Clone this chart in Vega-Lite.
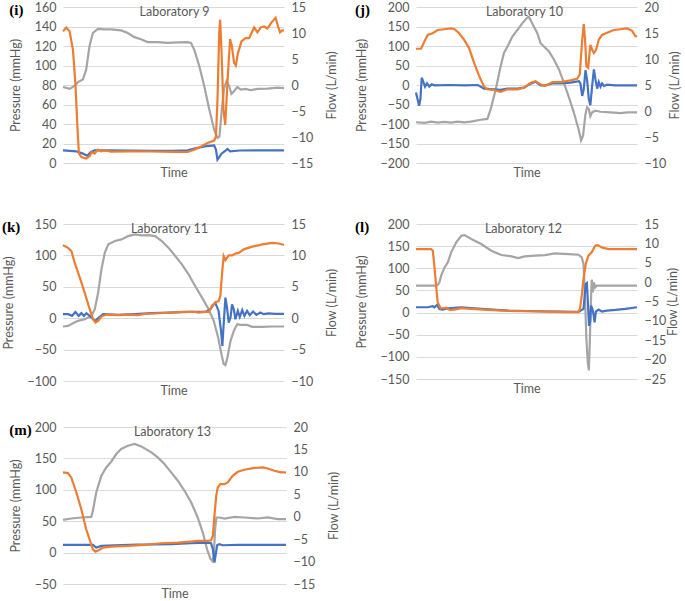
{
  "$schema": "https://vega.github.io/schema/vega-lite/v6.json",
  "padding": {"left": 2, "top": 1, "right": 0, "bottom": 0},
  "background": "white",
  "config": {
    "view": {"stroke": null},
    "font": "Lato",
    "axis": {"labelFont": "Lato", "labelFontSize": 12.5, "labelColor": "#595959", "titleFont": "Lato", "titleFontSize": 12.5, "titleFontWeight": "normal", "titleColor": "#595959", "domain": false, "ticks": false, "gridColor": "#D9D9D9", "labelPadding": 7},
    "title": {"font": "Liberation Serif", "fontSize": 15, "fontWeight": "bold", "color": "#000000", "anchor": "start", "frame": "bounds", "offset": -17}
  },
  "datasets": {
    "lab9": [
      {"t":0,"s":"Flow","v":-0.38},{"t":3,"s":"Flow","v":-0.75},{"t":4.5,"s":"Flow","v":-0.38},{"t":6.8,"s":"Flow","v":0.56},{"t":9,"s":"Flow","v":1.05},{"t":10.5,"s":"Flow","v":3.0},{"t":12,"s":"Flow","v":7.5},{"t":13.5,"s":"Flow","v":10.0},{"t":15.8,"s":"Flow","v":10.8},{"t":18.8,"s":"Flow","v":10.7},{"t":21.8,"s":"Flow","v":10.7},{"t":26.3,"s":"Flow","v":10.5},{"t":29.3,"s":"Flow","v":10.0},{"t":32.3,"s":"Flow","v":9.2},{"t":35.3,"s":"Flow","v":8.8},{"t":38.3,"s":"Flow","v":8.25},{"t":42.9,"s":"Flow","v":8.25},{"t":47.4,"s":"Flow","v":8.1},{"t":51.9,"s":"Flow","v":8.2},{"t":56.4,"s":"Flow","v":8.25},{"t":57.9,"s":"Flow","v":8.1},{"t":59.4,"s":"Flow","v":6.75},{"t":61.7,"s":"Flow","v":3.6},{"t":63.9,"s":"Flow","v":-0.2},{"t":66.2,"s":"Flow","v":-4.7},{"t":68.4,"s":"Flow","v":-8.6},{"t":69.9,"s":"Flow","v":-10.2},{"t":70.8,"s":"Flow","v":-9.9},{"t":71.7,"s":"Flow","v":-5.4},{"t":72.9,"s":"Flow","v":-0.6},{"t":74,"s":"Flow","v":0.75},{"t":75.2,"s":"Flow","v":-0.2},{"t":76.2,"s":"Flow","v":-1.7},{"t":77.4,"s":"Flow","v":-1.2},{"t":78.9,"s":"Flow","v":-0.4},{"t":80.5,"s":"Flow","v":-0.9},{"t":82.7,"s":"Flow","v":-0.75},{"t":85,"s":"Flow","v":-1.0},{"t":88,"s":"Flow","v":-0.75},{"t":92.5,"s":"Flow","v":-0.7},{"t":97,"s":"Flow","v":-0.5},{"t":100,"s":"Flow","v":-0.6},
      {"t":0,"s":"LAP","v":13},{"t":6,"s":"LAP","v":12},{"t":9,"s":"LAP","v":9.6},{"t":11,"s":"LAP","v":7.5},{"t":12.5,"s":"LAP","v":11},{"t":14.3,"s":"LAP","v":13},{"t":20,"s":"LAP","v":13},{"t":30,"s":"LAP","v":12.8},{"t":40,"s":"LAP","v":12.5},{"t":50,"s":"LAP","v":12.5},{"t":56.4,"s":"LAP","v":13},{"t":59.4,"s":"LAP","v":14.7},{"t":64,"s":"LAP","v":17},{"t":68.4,"s":"LAP","v":18},{"t":69.2,"s":"LAP","v":13.7},{"t":69.9,"s":"LAP","v":3.4},{"t":70.7,"s":"LAP","v":6},{"t":71.7,"s":"LAP","v":9.6},{"t":73.7,"s":"LAP","v":13},{"t":74.4,"s":"LAP","v":14.4},{"t":75.6,"s":"LAP","v":12},{"t":80,"s":"LAP","v":12.8},{"t":90,"s":"LAP","v":13},{"t":100,"s":"LAP","v":13},
      {"t":0,"s":"LVP","v":135},{"t":1.5,"s":"LVP","v":139},{"t":3,"s":"LVP","v":135},{"t":4.5,"s":"LVP","v":116},{"t":5.6,"s":"LVP","v":82},{"t":6.5,"s":"LVP","v":38},{"t":7.2,"s":"LVP","v":10},{"t":8.3,"s":"LVP","v":6},{"t":10.5,"s":"LVP","v":4.5},{"t":12,"s":"LVP","v":7},{"t":13,"s":"LVP","v":11},{"t":14.3,"s":"LVP","v":9.6},{"t":15.8,"s":"LVP","v":13.7},{"t":17.3,"s":"LVP","v":12},{"t":18.8,"s":"LVP","v":13},{"t":21.8,"s":"LVP","v":11.6},{"t":30,"s":"LVP","v":12},{"t":40,"s":"LVP","v":11.8},{"t":50,"s":"LVP","v":11.5},{"t":56.4,"s":"LVP","v":11.3},{"t":59.4,"s":"LVP","v":13.7},{"t":62.4,"s":"LVP","v":17},{"t":65.4,"s":"LVP","v":20.5},{"t":68.4,"s":"LVP","v":23},{"t":69.2,"s":"LVP","v":27},{"t":69.9,"s":"LVP","v":65},{"t":70.7,"s":"LVP","v":134},{"t":71.1,"s":"LVP","v":147},{"t":71.7,"s":"LVP","v":116},{"t":72.6,"s":"LVP","v":55},{"t":73.4,"s":"LVP","v":39},{"t":74.4,"s":"LVP","v":82},{"t":75.6,"s":"LVP","v":127},{"t":76.4,"s":"LVP","v":120},{"t":77.4,"s":"LVP","v":103},{"t":78.2,"s":"LVP","v":100},{"t":79.2,"s":"LVP","v":113},{"t":80.8,"s":"LVP","v":125},{"t":82.7,"s":"LVP","v":128},{"t":84.2,"s":"LVP","v":128},{"t":86.5,"s":"LVP","v":139},{"t":88,"s":"LVP","v":134},{"t":89.5,"s":"LVP","v":139},{"t":91,"s":"LVP","v":140},{"t":92.5,"s":"LVP","v":138},{"t":94.3,"s":"LVP","v":144},{"t":96.2,"s":"LVP","v":149},{"t":97.3,"s":"LVP","v":140},{"t":98.2,"s":"LVP","v":134},{"t":99.2,"s":"LVP","v":136},{"t":100,"s":"LVP","v":136}
    ],
    "lab10": [
      {"t":0,"s":"Flow","v":-2.16},{"t":3.8,"s":"Flow","v":-2.28},{"t":6.8,"s":"Flow","v":-2.05},{"t":9.8,"s":"Flow","v":-2.25},{"t":12.8,"s":"Flow","v":-2.1},{"t":15.8,"s":"Flow","v":-2.25},{"t":18.8,"s":"Flow","v":-2.05},{"t":21.8,"s":"Flow","v":-2.2},{"t":24.8,"s":"Flow","v":-2.05},{"t":29.3,"s":"Flow","v":-1.68},{"t":32.3,"s":"Flow","v":-1.53},{"t":33.8,"s":"Flow","v":0.37},{"t":36.1,"s":"Flow","v":4.18},{"t":38.3,"s":"Flow","v":8.6},{"t":39.8,"s":"Flow","v":11.15},{"t":41.4,"s":"Flow","v":12.4},{"t":43.6,"s":"Flow","v":14.3},{"t":45.9,"s":"Flow","v":15.6},{"t":48.1,"s":"Flow","v":16.85},{"t":50.4,"s":"Flow","v":18.0},{"t":51.1,"s":"Flow","v":18.1},{"t":52.6,"s":"Flow","v":16.85},{"t":54.9,"s":"Flow","v":14.95},{"t":56.4,"s":"Flow","v":13.0},{"t":57.9,"s":"Flow","v":12.4},{"t":60.2,"s":"Flow","v":11.45},{"t":62.4,"s":"Flow","v":9.9},{"t":64.7,"s":"Flow","v":8.0},{"t":66.9,"s":"Flow","v":5.45},{"t":69.2,"s":"Flow","v":2.6},{"t":71.4,"s":"Flow","v":-0.25},{"t":73.7,"s":"Flow","v":-3.75},{"t":74.7,"s":"Flow","v":-5.65},{"t":75.6,"s":"Flow","v":-4.7},{"t":76.7,"s":"Flow","v":-0.55},{"t":77.4,"s":"Flow","v":0.7},{"t":78.2,"s":"Flow","v":0.37},{"t":78.9,"s":"Flow","v":-1.0},{"t":79.7,"s":"Flow","v":-0.25},{"t":81.2,"s":"Flow","v":0.05},{"t":83.5,"s":"Flow","v":-0.14},{"t":88,"s":"Flow","v":-0.25},{"t":92.5,"s":"Flow","v":-0.4},{"t":95.5,"s":"Flow","v":-0.25},{"t":100,"s":"Flow","v":-0.25},
      {"t":0,"s":"LAP","v":-19},{"t":1.4,"s":"LAP","v":-53},{"t":2,"s":"LAP","v":-36},{"t":2.6,"s":"LAP","v":18.6},{"t":3.2,"s":"LAP","v":10},{"t":4.1,"s":"LAP","v":-4.2},{"t":5,"s":"LAP","v":4.2},{"t":6,"s":"LAP","v":-4.2},{"t":7.1,"s":"LAP","v":1.7},{"t":8.3,"s":"LAP","v":-1},{"t":15,"s":"LAP","v":0},{"t":22,"s":"LAP","v":-1},{"t":28,"s":"LAP","v":0},{"t":30.8,"s":"LAP","v":-9.3},{"t":35.3,"s":"LAP","v":-11},{"t":38.3,"s":"LAP","v":-12.7},{"t":41.4,"s":"LAP","v":-9.3},{"t":45.9,"s":"LAP","v":-9.3},{"t":48.9,"s":"LAP","v":-6.8},{"t":51.9,"s":"LAP","v":3.4},{"t":54.1,"s":"LAP","v":8.5},{"t":56.4,"s":"LAP","v":-1},{"t":58.6,"s":"LAP","v":-1},{"t":61.7,"s":"LAP","v":4.2},{"t":65.4,"s":"LAP","v":4.2},{"t":69.9,"s":"LAP","v":6},{"t":73.7,"s":"LAP","v":10},{"t":74.4,"s":"LAP","v":4.2},{"t":75.2,"s":"LAP","v":-28},{"t":75.9,"s":"LAP","v":-11},{"t":76.7,"s":"LAP","v":38},{"t":77.4,"s":"LAP","v":14},{"t":78.2,"s":"LAP","v":-36},{"t":78.9,"s":"LAP","v":-51.6},{"t":79.7,"s":"LAP","v":-2.5},{"t":80.5,"s":"LAP","v":40},{"t":81.2,"s":"LAP","v":14},{"t":82,"s":"LAP","v":-9.3},{"t":82.7,"s":"LAP","v":7.6},{"t":83.5,"s":"LAP","v":-4.2},{"t":84.2,"s":"LAP","v":4.2},{"t":85,"s":"LAP","v":-2.5},{"t":86.5,"s":"LAP","v":0.8},{"t":90,"s":"LAP","v":-1},{"t":100,"s":"LAP","v":-1},
      {"t":0,"s":"LVP","v":93},{"t":2.3,"s":"LVP","v":93},{"t":3.8,"s":"LVP","v":111.6},{"t":5.3,"s":"LVP","v":128.5},{"t":7.5,"s":"LVP","v":132.7},{"t":9.8,"s":"LVP","v":141},{"t":12.8,"s":"LVP","v":143},{"t":15.8,"s":"LVP","v":145},{"t":17.3,"s":"LVP","v":143.7},{"t":19.5,"s":"LVP","v":132.7},{"t":21.8,"s":"LVP","v":115.8},{"t":24,"s":"LVP","v":94.7},{"t":26.3,"s":"LVP","v":56.6},{"t":28.6,"s":"LVP","v":22.8},{"t":30.8,"s":"LVP","v":-4.2},{"t":32.3,"s":"LVP","v":-11},{"t":35.3,"s":"LVP","v":-12.7},{"t":38.3,"s":"LVP","v":-17.8},{"t":41.4,"s":"LVP","v":-11},{"t":45.9,"s":"LVP","v":-11},{"t":48.9,"s":"LVP","v":-6.8},{"t":51.9,"s":"LVP","v":6},{"t":54.1,"s":"LVP","v":10},{"t":55.6,"s":"LVP","v":4.2},{"t":57.9,"s":"LVP","v":-2.5},{"t":59.4,"s":"LVP","v":0},{"t":61.7,"s":"LVP","v":7.6},{"t":65.4,"s":"LVP","v":7.6},{"t":69.9,"s":"LVP","v":11.8},{"t":72.9,"s":"LVP","v":16},{"t":74.1,"s":"LVP","v":27},{"t":75.2,"s":"LVP","v":116},{"t":75.9,"s":"LVP","v":156},{"t":76.5,"s":"LVP","v":116},{"t":77.1,"s":"LVP","v":48},{"t":77.9,"s":"LVP","v":44},{"t":78.9,"s":"LVP","v":103},{"t":79.7,"s":"LVP","v":90},{"t":80.5,"s":"LVP","v":82},{"t":81.5,"s":"LVP","v":90},{"t":82.7,"s":"LVP","v":116},{"t":84.2,"s":"LVP","v":128.5},{"t":86.5,"s":"LVP","v":134},{"t":89.5,"s":"LVP","v":141},{"t":92.5,"s":"LVP","v":143},{"t":95.5,"s":"LVP","v":145},{"t":97.7,"s":"LVP","v":139.5},{"t":99.2,"s":"LVP","v":126},{"t":100,"s":"LVP","v":124}
    ],
    "lab11": [
      {"t":0,"s":"Flow","v":-1.32},{"t":2.3,"s":"Flow","v":-1.22},{"t":4.5,"s":"Flow","v":-0.8},{"t":6.8,"s":"Flow","v":-0.42},{"t":9.8,"s":"Flow","v":-0.16},{"t":12.9,"s":"Flow","v":0.37},{"t":14.4,"s":"Flow","v":1.43},{"t":15.9,"s":"Flow","v":4.08},{"t":17.4,"s":"Flow","v":7.79},{"t":18.9,"s":"Flow","v":10.4},{"t":20.5,"s":"Flow","v":11.76},{"t":23.5,"s":"Flow","v":12.29},{"t":26.5,"s":"Flow","v":12.55},{"t":29.5,"s":"Flow","v":13.08},{"t":32.6,"s":"Flow","v":13.35},{"t":35.6,"s":"Flow","v":13.19},{"t":38.6,"s":"Flow","v":13.24},{"t":41.7,"s":"Flow","v":13.08},{"t":44.7,"s":"Flow","v":12.29},{"t":47.7,"s":"Flow","v":11.23},{"t":50.8,"s":"Flow","v":9.9},{"t":53.8,"s":"Flow","v":8.58},{"t":56.8,"s":"Flow","v":6.99},{"t":59.8,"s":"Flow","v":5.14},{"t":62.9,"s":"Flow","v":3.28},{"t":65.9,"s":"Flow","v":1.43},{"t":68.2,"s":"Flow","v":-0.42},{"t":70.2,"s":"Flow","v":-3.07},{"t":71.7,"s":"Flow","v":-5.72},{"t":72.7,"s":"Flow","v":-7.3},{"t":73.5,"s":"Flow","v":-7.47},{"t":74.4,"s":"Flow","v":-6.25},{"t":75.8,"s":"Flow","v":-3.6},{"t":77.3,"s":"Flow","v":-2.01},{"t":78.8,"s":"Flow","v":-0.95},{"t":80.3,"s":"Flow","v":-1.06},{"t":83.3,"s":"Flow","v":-1.06},{"t":85.6,"s":"Flow","v":-1.38},{"t":90.2,"s":"Flow","v":-1.38},{"t":94.7,"s":"Flow","v":-1.32},{"t":100,"s":"Flow","v":-1.32},
      {"t":0,"s":"LAP","v":6.4},{"t":2.3,"s":"LAP","v":6.4},{"t":4.1,"s":"LAP","v":3.7},{"t":5.6,"s":"LAP","v":10},{"t":7.1,"s":"LAP","v":3.7},{"t":8.3,"s":"LAP","v":8},{"t":9.5,"s":"LAP","v":3.7},{"t":10.6,"s":"LAP","v":8},{"t":12.1,"s":"LAP","v":3.7},{"t":13.6,"s":"LAP","v":-1.6},{"t":14.7,"s":"LAP","v":-4.2},{"t":16.2,"s":"LAP","v":1},{"t":18.2,"s":"LAP","v":6.4},{"t":25,"s":"LAP","v":5.3},{"t":32.6,"s":"LAP","v":6.4},{"t":40.2,"s":"LAP","v":8},{"t":47.7,"s":"LAP","v":9},{"t":56.8,"s":"LAP","v":10},{"t":64.4,"s":"LAP","v":10},{"t":66.7,"s":"LAP","v":14.3},{"t":68.2,"s":"LAP","v":22},{"t":68.9,"s":"LAP","v":24.5},{"t":70.4,"s":"LAP","v":11.6},{"t":71.5,"s":"LAP","v":-20},{"t":72.1,"s":"LAP","v":-44},{"t":72.7,"s":"LAP","v":-9.5},{"t":73.5,"s":"LAP","v":32.8},{"t":74.2,"s":"LAP","v":16.8},{"t":75,"s":"LAP","v":-7},{"t":75.8,"s":"LAP","v":1},{"t":76.5,"s":"LAP","v":22},{"t":77.3,"s":"LAP","v":14},{"t":78,"s":"LAP","v":-1.6},{"t":79.1,"s":"LAP","v":11.6},{"t":80,"s":"LAP","v":2},{"t":81.1,"s":"LAP","v":12.7},{"t":82.1,"s":"LAP","v":3.7},{"t":83.3,"s":"LAP","v":11.6},{"t":84.5,"s":"LAP","v":4.8},{"t":86,"s":"LAP","v":10.6},{"t":87.5,"s":"LAP","v":5.3},{"t":89.3,"s":"LAP","v":9},{"t":90.8,"s":"LAP","v":6.4},{"t":93,"s":"LAP","v":7.6},{"t":96,"s":"LAP","v":6.8},{"t":100,"s":"LAP","v":6.8},
      {"t":0,"s":"LVP","v":116},{"t":2.3,"s":"LVP","v":112},{"t":3.8,"s":"LVP","v":107},{"t":5.3,"s":"LVP","v":88},{"t":7.6,"s":"LVP","v":64.6},{"t":9.8,"s":"LVP","v":40.8},{"t":12.1,"s":"LVP","v":14.3},{"t":13.6,"s":"LVP","v":-1.6},{"t":14.7,"s":"LVP","v":-6.9},{"t":15.9,"s":"LVP","v":-4.2},{"t":17.4,"s":"LVP","v":2.6},{"t":19.7,"s":"LVP","v":5.8},{"t":25,"s":"LVP","v":4.8},{"t":29.5,"s":"LVP","v":5.8},{"t":34,"s":"LVP","v":4.8},{"t":37,"s":"LVP","v":6.9},{"t":43.2,"s":"LVP","v":7.9},{"t":49.2,"s":"LVP","v":9},{"t":53.8,"s":"LVP","v":10},{"t":59.8,"s":"LVP","v":10},{"t":61.4,"s":"LVP","v":9},{"t":64.4,"s":"LVP","v":10},{"t":65.9,"s":"LVP","v":10},{"t":67.4,"s":"LVP","v":19.6},{"t":68.9,"s":"LVP","v":25},{"t":70.5,"s":"LVP","v":27.5},{"t":71.2,"s":"LVP","v":35.5},{"t":72,"s":"LVP","v":72.6},{"t":72.7,"s":"LVP","v":99},{"t":73.5,"s":"LVP","v":92.7},{"t":75,"s":"LVP","v":100},{"t":76.5,"s":"LVP","v":100},{"t":78,"s":"LVP","v":102.8},{"t":79.5,"s":"LVP","v":104},{"t":81.8,"s":"LVP","v":109.6},{"t":85.6,"s":"LVP","v":113.9},{"t":90.2,"s":"LVP","v":117.6},{"t":94.7,"s":"LVP","v":120},{"t":97.7,"s":"LVP","v":119},{"t":100,"s":"LVP","v":116.5}
    ],
    "lab12": [
      {"t":0,"s":"Flow","v":-0.91},{"t":8.3,"s":"Flow","v":-0.91},{"t":9.8,"s":"Flow","v":-0.74},{"t":10.6,"s":"Flow","v":-0.05},{"t":11.4,"s":"Flow","v":1.66},{"t":12.9,"s":"Flow","v":3.8},{"t":14.4,"s":"Flow","v":5.1},{"t":15.9,"s":"Flow","v":7.68},{"t":18.2,"s":"Flow","v":10.25},{"t":20.5,"s":"Flow","v":11.96},{"t":22,"s":"Flow","v":12.14},{"t":25,"s":"Flow","v":11.12},{"t":29.5,"s":"Flow","v":9.82},{"t":34.1,"s":"Flow","v":8.1},{"t":38.6,"s":"Flow","v":6.99},{"t":43.2,"s":"Flow","v":6.65},{"t":46.2,"s":"Flow","v":6.21},{"t":49.2,"s":"Flow","v":6.65},{"t":53.8,"s":"Flow","v":6.82},{"t":58.3,"s":"Flow","v":6.99},{"t":62.9,"s":"Flow","v":7.41},{"t":68.9,"s":"Flow","v":7.24},{"t":73.5,"s":"Flow","v":7.07},{"t":75,"s":"Flow","v":6.38},{"t":75.8,"s":"Flow","v":4.67},{"t":76.5,"s":"Flow","v":-4.34},{"t":77.1,"s":"Flow","v":-14.63},{"t":77.7,"s":"Flow","v":-20.65},{"t":78.2,"s":"Flow","v":-22.78},{"t":78.6,"s":"Flow","v":-16.35},{"t":79.1,"s":"Flow","v":-6.05},{"t":79.5,"s":"Flow","v":0.63},{"t":80,"s":"Flow","v":-2.62},{"t":80.5,"s":"Flow","v":-0.05},{"t":81.1,"s":"Flow","v":-1.34},{"t":81.8,"s":"Flow","v":-0.91},{"t":85,"s":"Flow","v":-0.91},{"t":100,"s":"Flow","v":-0.91},
      {"t":0,"s":"LAP","v":12},{"t":5.3,"s":"LAP","v":12},{"t":7.6,"s":"LAP","v":14.3},{"t":8.3,"s":"LAP","v":12},{"t":9.5,"s":"LAP","v":17.3},{"t":10.6,"s":"LAP","v":8.3},{"t":12.1,"s":"LAP","v":6.8},{"t":14.4,"s":"LAP","v":9.8},{"t":20.5,"s":"LAP","v":12},{"t":29.5,"s":"LAP","v":8.3},{"t":41.7,"s":"LAP","v":4.5},{"t":53.8,"s":"LAP","v":3},{"t":65.9,"s":"LAP","v":2.3},{"t":73.5,"s":"LAP","v":1.5},{"t":75.8,"s":"LAP","v":8.3},{"t":76.8,"s":"LAP","v":64.6},{"t":77.3,"s":"LAP","v":66.8},{"t":77.7,"s":"LAP","v":30.8},{"t":78.3,"s":"LAP","v":-30},{"t":78.8,"s":"LAP","v":-20},{"t":79.2,"s":"LAP","v":15.8},{"t":79.8,"s":"LAP","v":8.3},{"t":80.3,"s":"LAP","v":-3},{"t":80.8,"s":"LAP","v":-22},{"t":81.4,"s":"LAP","v":2.3},{"t":82.6,"s":"LAP","v":6.8},{"t":84.1,"s":"LAP","v":2.3},{"t":86.4,"s":"LAP","v":4.5},{"t":90.2,"s":"LAP","v":6},{"t":94.7,"s":"LAP","v":8.3},{"t":100,"s":"LAP","v":12},
      {"t":0,"s":"LVP","v":143.4},{"t":6.8,"s":"LVP","v":143.4},{"t":7.6,"s":"LVP","v":139.6},{"t":8.3,"s":"LVP","v":105.9},{"t":9.1,"s":"LVP","v":60.8},{"t":9.8,"s":"LVP","v":23.3},{"t":11.1,"s":"LVP","v":9.8},{"t":12.1,"s":"LVP","v":9.8},{"t":13.6,"s":"LVP","v":11.3},{"t":15.2,"s":"LVP","v":6},{"t":17.4,"s":"LVP","v":6.8},{"t":20.5,"s":"LVP","v":9.8},{"t":25,"s":"LVP","v":8.3},{"t":32.6,"s":"LVP","v":6},{"t":41.7,"s":"LVP","v":3.8},{"t":50.8,"s":"LVP","v":3},{"t":59.8,"s":"LVP","v":2.3},{"t":67.4,"s":"LVP","v":0.8},{"t":73.5,"s":"LVP","v":0.8},{"t":74.2,"s":"LVP","v":8.3},{"t":75,"s":"LVP","v":38.3},{"t":75.8,"s":"LVP","v":75.8},{"t":76.8,"s":"LVP","v":109.6},{"t":78,"s":"LVP","v":128.4},{"t":79.5,"s":"LVP","v":135.9},{"t":81.1,"s":"LVP","v":150.9},{"t":82.3,"s":"LVP","v":152.4},{"t":84.1,"s":"LVP","v":147.1},{"t":87.1,"s":"LVP","v":143.4},{"t":91.7,"s":"LVP","v":143.4},{"t":100,"s":"LVP","v":143.4}
    ],
    "lab13": [
      {"t":0,"s":"Flow","v":-0.71},{"t":3.7,"s":"Flow","v":-0.4},{"t":8.2,"s":"Flow","v":-0.17},{"t":12.7,"s":"Flow","v":-0.03},{"t":13.4,"s":"Flow","v":1.31},{"t":14.9,"s":"Flow","v":5.4},{"t":17.2,"s":"Flow","v":9.12},{"t":19.4,"s":"Flow","v":10.98},{"t":21.6,"s":"Flow","v":12.26},{"t":23.9,"s":"Flow","v":13.97},{"t":26.1,"s":"Flow","v":15.09},{"t":29.1,"s":"Flow","v":15.83},{"t":32.1,"s":"Flow","v":16.21},{"t":35.1,"s":"Flow","v":15.67},{"t":39.6,"s":"Flow","v":14.34},{"t":42.5,"s":"Flow","v":13.22},{"t":45.5,"s":"Flow","v":11.74},{"t":48.5,"s":"Flow","v":9.88},{"t":51.5,"s":"Flow","v":8.02},{"t":54.5,"s":"Flow","v":5.78},{"t":57.5,"s":"Flow","v":3.17},{"t":60.4,"s":"Flow","v":-0.17},{"t":62.7,"s":"Flow","v":-3.53},{"t":64.6,"s":"Flow","v":-7.26},{"t":66.1,"s":"Flow","v":-9.34},{"t":67,"s":"Flow","v":-9.86},{"t":67.6,"s":"Flow","v":-8.74},{"t":68.2,"s":"Flow","v":-2.79},{"t":68.8,"s":"Flow","v":-0.17},{"t":70.1,"s":"Flow","v":-0.17},{"t":72.4,"s":"Flow","v":-0.4},{"t":76.9,"s":"Flow","v":-0.03},{"t":81.3,"s":"Flow","v":-0.17},{"t":87.3,"s":"Flow","v":-0.4},{"t":91.8,"s":"Flow","v":-0.17},{"t":96.3,"s":"Flow","v":-0.55},{"t":100,"s":"Flow","v":-0.55},
      {"t":0,"s":"LAP","v":12.2},{"t":13.4,"s":"LAP","v":12.2},{"t":14.9,"s":"LAP","v":8},{"t":17.2,"s":"LAP","v":10.6},{"t":23,"s":"LAP","v":11.7},{"t":33.6,"s":"LAP","v":12.8},{"t":48.5,"s":"LAP","v":13.3},{"t":57.5,"s":"LAP","v":14.9},{"t":64.9,"s":"LAP","v":16},{"t":66.4,"s":"LAP","v":14.9},{"t":67.2,"s":"LAP","v":5.3},{"t":67.9,"s":"LAP","v":-16},{"t":68.5,"s":"LAP","v":-2.7},{"t":69.1,"s":"LAP","v":11.7},{"t":70.1,"s":"LAP","v":13.3},{"t":71.6,"s":"LAP","v":11.7},{"t":78.4,"s":"LAP","v":12.2},{"t":100,"s":"LAP","v":12.2},
      {"t":0,"s":"LVP","v":127.7},{"t":2.2,"s":"LVP","v":126.6},{"t":3.7,"s":"LVP","v":119.7},{"t":6,"s":"LVP","v":95.7},{"t":8.2,"s":"LVP","v":69.1},{"t":10.4,"s":"LVP","v":37.2},{"t":12.4,"s":"LVP","v":16},{"t":13.4,"s":"LVP","v":5.3},{"t":14.5,"s":"LVP","v":1.6},{"t":16,"s":"LVP","v":3.7},{"t":17.9,"s":"LVP","v":8},{"t":21.6,"s":"LVP","v":9.6},{"t":29.1,"s":"LVP","v":10.6},{"t":36.6,"s":"LVP","v":12.2},{"t":44,"s":"LVP","v":14.9},{"t":51.5,"s":"LVP","v":16},{"t":57.5,"s":"LVP","v":17.6},{"t":60.4,"s":"LVP","v":18.6},{"t":64.9,"s":"LVP","v":18.6},{"t":66.4,"s":"LVP","v":19.7},{"t":67.2,"s":"LVP","v":26.6},{"t":67.9,"s":"LVP","v":58.5},{"t":68.7,"s":"LVP","v":90.4},{"t":69.4,"s":"LVP","v":103.7},{"t":70.6,"s":"LVP","v":109},{"t":72.4,"s":"LVP","v":109},{"t":73.9,"s":"LVP","v":111.7},{"t":76.1,"s":"LVP","v":122.3},{"t":78.4,"s":"LVP","v":128.7},{"t":81.3,"s":"LVP","v":131.9},{"t":85.1,"s":"LVP","v":134.6},{"t":89.6,"s":"LVP","v":135.6},{"t":91.8,"s":"LVP","v":134},{"t":94.8,"s":"LVP","v":130.3},{"t":97.8,"s":"LVP","v":127.7},{"t":100,"s":"LVP","v":127.7}
    ]
  },
  "spacing": 24,
  "vconcat": [
    {
      "spacing": 39,
      "vconcat": [
        {
          "spacing": 16,
          "hconcat": [
            {
              "title": {"text": "(i)"},
              "vconcat": [{
                "width": 221, "height": 156,
                "title": {"text": "Laboratory 9", "anchor": "middle", "frame": "group", "offset": -17, "font": "Lato", "fontSize": 12.5, "fontWeight": "normal", "color": "#595959", "dx": 1},
                "data": {"name": "lab9"},
                "encoding": {"x": {"field": "t", "type": "quantitative", "scale": {"domain": [0, 100], "nice": false, "zero": false}, "axis": {"title": "Time", "labels": false, "ticks": false, "domain": false, "grid": false, "titlePadding": 3}}},
                "layer": [
                  {"transform": [{"filter": "datum.s === 'Flow'"}], "mark": {"type": "line", "color": "#A5A5A5", "strokeWidth": 2.2},
                   "encoding": {"y": {"field": "v", "type": "quantitative", "scale": {"domain": [-15, 15], "nice": false, "zero": false}, "axis": {"orient": "right", "title": "Flow (L/min)", "values": [-15, -10, -5, 0, 5, 10, 15], "grid": false, "titleAngle": 270, "titlePadding": 26}}}},
                  {"encoding": {"y": {"field": "v", "type": "quantitative", "scale": {"domain": [0, 160], "nice": false, "zero": false}, "axis": {"orient": "left", "title": "Pressure (mmHg)", "values": [0, 20, 40, 60, 80, 100, 120, 140, 160], "grid": true, "titlePadding": 12}}},
                   "layer": [
                     {"transform": [{"filter": "datum.s === 'LAP'"}], "mark": {"type": "line", "color": "#4472C4", "strokeWidth": 2.2}},
                     {"transform": [{"filter": "datum.s === 'LVP'"}], "mark": {"type": "line", "color": "#ED7D31", "strokeWidth": 2.2}}
                   ]}
                ],
                "resolve": {"scale": {"y": "independent"}}
              }]
            },
            {
              "title": {"text": "(j)"},
              "vconcat": [{
                "width": 221, "height": 156,
                "title": {"text": "Laboratory 10", "anchor": "middle", "frame": "group", "offset": -17, "font": "Lato", "fontSize": 12.5, "fontWeight": "normal", "color": "#595959", "dx": -2},
                "data": {"name": "lab10"},
                "encoding": {"x": {"field": "t", "type": "quantitative", "scale": {"domain": [0, 100], "nice": false, "zero": false}, "axis": {"title": "Time", "labels": false, "ticks": false, "domain": false, "grid": false, "titlePadding": 3}}},
                "layer": [
                  {"transform": [{"filter": "datum.s === 'Flow'"}], "mark": {"type": "line", "color": "#A5A5A5", "strokeWidth": 2.2},
                   "encoding": {"y": {"field": "v", "type": "quantitative", "scale": {"domain": [-10, 20], "nice": false, "zero": false}, "axis": {"orient": "right", "title": "Flow (L/min)", "values": [-10, -5, 0, 5, 10, 15, 20], "grid": false, "titleAngle": 270, "titlePadding": 16}}}},
                  {"encoding": {"y": {"field": "v", "type": "quantitative", "scale": {"domain": [-200, 200], "nice": false, "zero": false}, "axis": {"orient": "left", "title": "Pressure (mmHg)", "values": [-200, -150, -100, -50, 0, 50, 100, 150, 200], "grid": true, "titlePadding": 12}}},
                   "layer": [
                     {"transform": [{"filter": "datum.s === 'LAP'"}], "mark": {"type": "line", "color": "#4472C4", "strokeWidth": 2.2}},
                     {"transform": [{"filter": "datum.s === 'LVP'"}], "mark": {"type": "line", "color": "#ED7D31", "strokeWidth": 2.2}}
                   ]}
                ],
                "resolve": {"scale": {"y": "independent"}}
              }]
            }
          ]
        },
        {
          "spacing": 16,
          "hconcat": [
            {
              "title": {"text": "(k)"},
              "vconcat": [{
                "width": 221, "height": 157,
                "title": {"text": "Laboratory 11", "anchor": "middle", "frame": "group", "offset": -17, "font": "Lato", "fontSize": 12.5, "fontWeight": "normal", "color": "#595959", "dx": -4},
                "data": {"name": "lab11"},
                "encoding": {"x": {"field": "t", "type": "quantitative", "scale": {"domain": [0, 100], "nice": false, "zero": false}, "axis": {"title": "Time", "labels": false, "ticks": false, "domain": false, "grid": false, "titlePadding": 3}}},
                "layer": [
                  {"transform": [{"filter": "datum.s === 'Flow'"}], "mark": {"type": "line", "color": "#A5A5A5", "strokeWidth": 2.2},
                   "encoding": {"y": {"field": "v", "type": "quantitative", "scale": {"domain": [-10, 15], "nice": false, "zero": false}, "axis": {"orient": "right", "title": "Flow (L/min)", "values": [-10, -5, 0, 5, 10, 15], "grid": false, "titleAngle": 270, "titlePadding": 26}}}},
                  {"encoding": {"y": {"field": "v", "type": "quantitative", "scale": {"domain": [-100, 150], "nice": false, "zero": false}, "axis": {"orient": "left", "title": "Pressure (mmHg)", "values": [-100, -50, 0, 50, 100, 150], "grid": true, "titlePadding": 12}}},
                   "layer": [
                     {"transform": [{"filter": "datum.s === 'LAP'"}], "mark": {"type": "line", "color": "#4472C4", "strokeWidth": 2.2}},
                     {"transform": [{"filter": "datum.s === 'LVP'"}], "mark": {"type": "line", "color": "#ED7D31", "strokeWidth": 2.2}}
                   ]}
                ],
                "resolve": {"scale": {"y": "independent"}}
              }]
            },
            {
              "title": {"text": "(l)"},
              "vconcat": [{
                "width": 221, "height": 155,
                "title": {"text": "Laboratory 12", "anchor": "middle", "frame": "group", "offset": -17, "font": "Lato", "fontSize": 12.5, "fontWeight": "normal", "color": "#595959", "dx": -3},
                "data": {"name": "lab12"},
                "encoding": {"x": {"field": "t", "type": "quantitative", "scale": {"domain": [0, 100], "nice": false, "zero": false}, "axis": {"title": "Time", "labels": false, "ticks": false, "domain": false, "grid": false, "titlePadding": 3}}},
                "layer": [
                  {"transform": [{"filter": "datum.s === 'Flow'"}], "mark": {"type": "line", "color": "#A5A5A5", "strokeWidth": 2.2},
                   "encoding": {"y": {"field": "v", "type": "quantitative", "scale": {"domain": [-25, 15], "nice": false, "zero": false}, "axis": {"orient": "right", "title": "Flow (L/min)", "values": [-25, -20, -15, -10, -5, 0, 5, 10, 15], "grid": false, "titleAngle": 270, "titlePadding": 14}}}},
                  {"encoding": {"y": {"field": "v", "type": "quantitative", "scale": {"domain": [-150, 200], "nice": false, "zero": false}, "axis": {"orient": "left", "title": "Pressure (mmHg)", "values": [-150, -100, -50, 0, 50, 100, 150, 200], "grid": true, "titlePadding": 12}}},
                   "layer": [
                     {"transform": [{"filter": "datum.s === 'LAP'"}], "mark": {"type": "line", "color": "#4472C4", "strokeWidth": 2.2}},
                     {"transform": [{"filter": "datum.s === 'LVP'"}], "mark": {"type": "line", "color": "#ED7D31", "strokeWidth": 2.2}}
                   ]}
                ],
                "resolve": {"scale": {"y": "independent"}}
              }]
            }
          ]
        }
      ]
    },
    {
      "title": {"text": "(m)"},
      "vconcat": [{
        "width": 223, "height": 157,
        "title": {"text": "Laboratory 13", "anchor": "middle", "frame": "group", "offset": -17, "font": "Lato", "fontSize": 12.5, "fontWeight": "normal", "color": "#595959", "dx": -2},
        "data": {"name": "lab13"},
        "encoding": {"x": {"field": "t", "type": "quantitative", "scale": {"domain": [0, 100], "nice": false, "zero": false}, "axis": {"title": "Time", "labels": false, "ticks": false, "domain": false, "grid": false, "titlePadding": 3}}},
        "layer": [
          {"transform": [{"filter": "datum.s === 'Flow'"}], "mark": {"type": "line", "color": "#A5A5A5", "strokeWidth": 2.2},
           "encoding": {"y": {"field": "v", "type": "quantitative", "scale": {"domain": [-15, 20], "nice": false, "zero": false}, "axis": {"orient": "right", "title": "Flow (L/min)", "values": [-15, -10, -5, 0, 5, 10, 15, 20], "grid": false, "titleAngle": 270, "titlePadding": 26}}}},
          {"encoding": {"y": {"field": "v", "type": "quantitative", "scale": {"domain": [-50, 200], "nice": false, "zero": false}, "axis": {"orient": "left", "title": "Pressure (mmHg)", "values": [-50, 0, 50, 100, 150, 200], "grid": true, "titlePadding": 12}}},
           "layer": [
             {"transform": [{"filter": "datum.s === 'LAP'"}], "mark": {"type": "line", "color": "#4472C4", "strokeWidth": 2.2}},
             {"transform": [{"filter": "datum.s === 'LVP'"}], "mark": {"type": "line", "color": "#ED7D31", "strokeWidth": 2.2}}
           ]}
        ],
        "resolve": {"scale": {"y": "independent"}}
      }]
    }
  ]
}
